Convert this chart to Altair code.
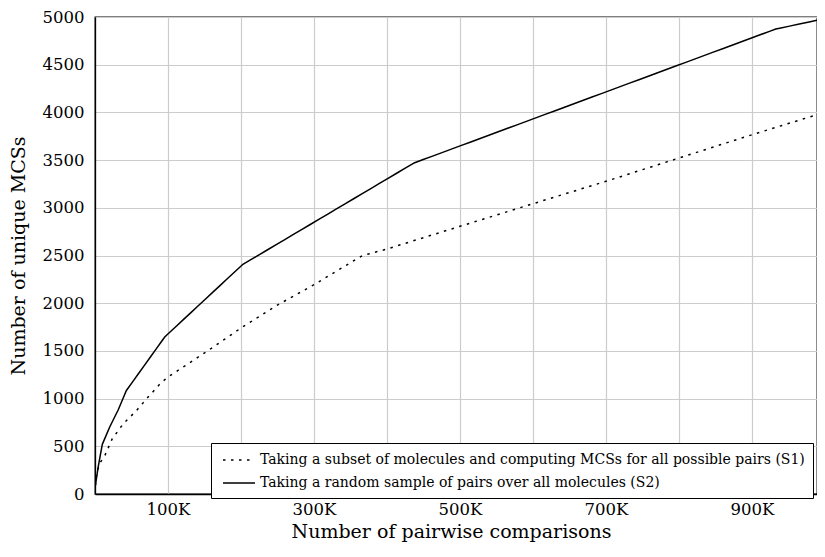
import altair as alt
import pandas as pd

s1_label = "Taking a subset of molecules and computing MCSs for all possible pairs (S1)"
s2_label = "Taking a random sample of pairs over all molecules (S2)"

# S1: subset of molecules, all pairs (dotted)
s1_x = [800, 2300, 6800, 13600, 23500, 38500, 56600, 72400, 90600, 100000, 153500,
        200000, 248600, 300000, 366000, 400000, 500000, 600000, 700000, 800000,
        900000, 989000]
s1_y = [90, 220, 325, 405, 577, 734, 873, 1013, 1167, 1226, 1496,
        1740, 1975, 2194, 2498, 2568, 2806, 3043, 3278, 3522,
        3766, 3976]

# S2: random sample of pairs (solid)
s2_x = [800, 1400, 4500, 10000, 20000, 31700, 43000, 95500, 202000, 437000,
        932500, 989000]
s2_y = [110, 133, 290, 520, 700, 880, 1085, 1646, 2404, 3470,
        4874, 4965]

x_grid = [100000 * i for i in range(1, 10)]
y_ticks = list(range(0, 5001, 500))

df = pd.DataFrame({
    "x": s1_x + s2_x,
    "y": s1_y + s2_y,
    "series": [s1_label] * len(s1_x) + [s2_label] * len(s2_x),
})

font = "DejaVu Serif"

chart = alt.Chart(df).mark_line(color="black", strokeWidth=1.5, clip=True).encode(
    x=alt.X(
        "x:Q",
        scale=alt.Scale(domain=[0, 989000], nice=False, zero=True),
        axis=alt.Axis(
            values=x_grid,
            labelExpr="datum.value % 200000 == 100000 ? (datum.value / 1000) + 'K' : ''",
            title="Number of pairwise comparisons",
            titleX=356,
            titleY=43,
            titleAlign="center",
            titleBaseline="alphabetic",
            labelPadding=7,
        ),
    ),
    y=alt.Y(
        "y:Q",
        scale=alt.Scale(domain=[0, 5000], nice=False),
        axis=alt.Axis(
            values=y_ticks,
            format="d",
            title="Number of unique MCSs",
            titleX=-77,
            titleY=238.5,
            titleAlign="center",
            titleBaseline="middle",
            labelPadding=11,
        ),
    ),
    strokeDash=alt.StrokeDash(
        "series:N",
        scale=alt.Scale(domain=[s1_label, s2_label], range=[[2.5, 5.5], [10, 0]]),
        legend=alt.Legend(
            title=None,
            orient="none",
            legendX=116,
            legendY=426,
            direction="vertical",
            symbolType="M-2,0H2",
            symbolSize=256,
            symbolOffset=11,
            symbolStrokeWidth=1.5,
            symbolStrokeColor="black",
            symbolFillColor="transparent",
            strokeColor="black",
            fillColor="white",
            padding=8,
            labelFont=font,
            labelFontSize=14,
            labelColor="black",
            labelLimit=0,
            labelOffset=12,
            rowPadding=7,
        ),
    ),
).properties(
    width=722,
    height=477,
    autosize=alt.AutoSizeParams(type="none"),
    padding={"left": 87, "top": 9, "right": 0, "bottom": 48},
).configure(
    font=font,
).configure_axis(
    domainColor="black",
    domainWidth=1.3,
    ticks=False,
    grid=True,
    gridColor="#cccccc",
    gridWidth=1.2,
    labelFont=font,
    labelFontSize=16.5,
    labelColor="black",
    titleFont=font,
    titleFontSize=19,
    titleFontWeight="normal",
    titleColor="black",
).configure_view(
    stroke="black",
    strokeWidth=1.3,
)

chart.save("out.html", embed_options={"renderer": "svg", "actions": False})
